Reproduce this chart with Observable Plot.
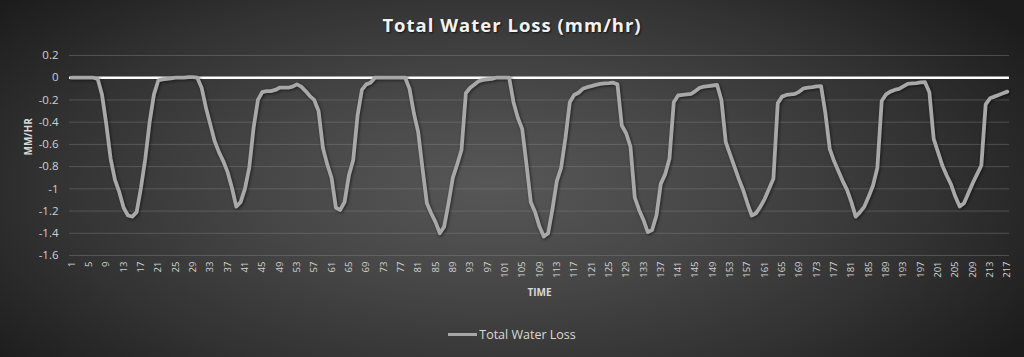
<!DOCTYPE html>
<html>
<head>
<meta charset="utf-8">
<script src="https://cdn.jsdelivr.net/npm/d3@7"></script>
<script src="https://cdn.jsdelivr.net/npm/@observablehq/plot@0.6"></script>
<style>
html, body { margin: 0; padding: 0; background: #1f1f1f; }
#wrap {
  width: 1024px; height: 357px; position: relative; overflow: hidden;
  background: radial-gradient(ellipse 62% 80% at 48% 52%, #575757 0%, #474747 35%, #323232 70%, #1c1c1c 100%);
  font-family: "Open Sans", sans-serif;
}
#title {
  position: absolute; top: 16px; left: 0; width: 1024px; text-align: center;
  color: #f2f2f2; font-weight: bold; font-size: 18.5px; line-height: 18px; letter-spacing: 1px;
  text-shadow: 1px 1px 2px rgba(0,0,0,0.7);
}
#chart { position: absolute; top: 40px; left: 0; }
#legend {
  position: absolute; top: 325px; left: 0; width: 1024px; height: 18px;
  display: flex; justify-content: center; align-items: center;
  color: #d9d9d9; font-size: 12.5px;
}
#legend .sw { width: 29px; height: 3px; background: #a8a8a8; margin-right: 2px; margin-top: 1px; }
</style>
</head>
<body>
<div id="wrap">
  <div id="title">Total Water Loss (mm/hr)</div>
  <div id="chart"></div>
  <div id="legend"><span class="sw"></span><span>Total Water Loss</span></div>
</div>
<script>
const seriesName = "Total Water Loss";
const time = d3.range(1, 218);
const waterLoss = [
  0, 0, 0, 0, 0, 0, -0.01, -0.15, -0.42, -0.73,
  -0.92, -1.03, -1.17, -1.24, -1.25, -1.21, -0.99, -0.73, -0.40, -0.15,
  -0.025, -0.015, -0.01, -0.005, 0, 0, 0, 0.005, 0.005, 0,
  -0.09, -0.27, -0.42, -0.57, -0.67, -0.75, -0.85, -0.99, -1.16, -1.12,
  -1.0, -0.81, -0.45, -0.2, -0.13, -0.12, -0.12, -0.11, -0.09, -0.09,
  -0.09, -0.08, -0.06, -0.08, -0.12, -0.165, -0.2, -0.3, -0.63, -0.78,
  -0.9, -1.17, -1.19, -1.12, -0.88, -0.74, -0.34, -0.11, -0.06, -0.045,
  0, 0, 0, 0, 0, 0, 0, 0, -0.1, -0.32,
  -0.49, -0.82, -1.13, -1.22, -1.30, -1.40, -1.34, -1.13, -0.9, -0.78,
  -0.65, -0.14, -0.09, -0.06, -0.03, -0.02, -0.015, -0.01, 0, 0,
  0, 0, -0.22, -0.36, -0.46, -0.78, -1.12, -1.21, -1.34, -1.43,
  -1.40, -1.18, -0.93, -0.81, -0.54, -0.22, -0.155, -0.135, -0.10, -0.085,
  -0.075, -0.065, -0.055, -0.05, -0.048, -0.045, -0.06, -0.43, -0.5, -0.62,
  -1.08, -1.19, -1.28, -1.39, -1.37, -1.24, -0.955, -0.87, -0.73, -0.22,
  -0.16, -0.155, -0.15, -0.145, -0.12, -0.09, -0.08, -0.075, -0.07, -0.065,
  -0.2, -0.58, -0.69, -0.8, -0.91, -1.01, -1.13, -1.24, -1.22, -1.16,
  -1.09, -1.0, -0.91, -0.23, -0.17, -0.155, -0.15, -0.145, -0.125, -0.095,
  -0.09, -0.085, -0.078, -0.075, -0.32, -0.64, -0.75, -0.84, -0.93, -1.01,
  -1.12, -1.25, -1.21, -1.16, -1.07, -0.97, -0.81, -0.21, -0.15, -0.125,
  -0.11, -0.10, -0.078, -0.055, -0.05, -0.048, -0.042, -0.04, -0.13, -0.55,
  -0.67, -0.79, -0.88, -0.96, -1.07, -1.16, -1.13, -1.04, -0.95, -0.87,
  -0.79, -0.24, -0.185, -0.17, -0.155, -0.14, -0.125
];
const xTicks = d3.range(1, 218, 4);
const yTicks = [0.2, 0, -0.2, -0.4, -0.6, -0.8, -1, -1.2, -1.4, -1.6];
const yLabel = "MM/HR";
const xLabel = "TIME";

const data = time.map((t, i) => ({t, v: waterLoss[i]}));

const chart = Plot.plot({
  width: 1024,
  height: 270,
  marginTop: 15,
  marginBottom: 55,
  marginLeft: 69,
  marginRight: 15,
  style: {background: "transparent", color: "#d0d0d0", fontFamily: "Open Sans, sans-serif", overflow: "visible"},
  x: {domain: [0.5, 217.5], axis: null},
  y: {domain: [-1.6, 0.2], axis: null},
  marks: [
    Plot.gridY(yTicks, {stroke: "#8a8a8a", strokeOpacity: 0.4, strokeWidth: 1}),
    Plot.axisY(yTicks, {tickSize: 0, tickPadding: 11, fontSize: 11.5, fill: "#d0d0d0",
      tickFormat: d => String(+d.toFixed(1)), label: null}),
    Plot.axisX(xTicks, {tickSize: 0, tickPadding: 6, tickRotate: -90, fontSize: 9.5, fill: "#d4d4d4", label: null}),
    Plot.ruleY([0], {stroke: "#ffffff", strokeWidth: 2.5}),
    Plot.lineY(data, {x: "t", y: "v", stroke: "#a8a8a8", strokeWidth: 3.8, strokeLinejoin: "round"}),
    Plot.text([yLabel], {frameAnchor: "left", dx: -41, rotate: -90, fontWeight: "bold", fontSize: 10, fill: "#d9d9d9"}),
    Plot.text([xLabel], {frameAnchor: "bottom", dy: 40, fontWeight: "bold", fontSize: 10, fill: "#d9d9d9"})
  ]
});
chart.querySelectorAll('g[aria-label="line"] path').forEach(p => {
  p.style.filter = "drop-shadow(1px 1px 1.5px rgba(0,0,0,0.55))";
});
document.getElementById("chart").appendChild(chart);
</script>
</body>
</html>
